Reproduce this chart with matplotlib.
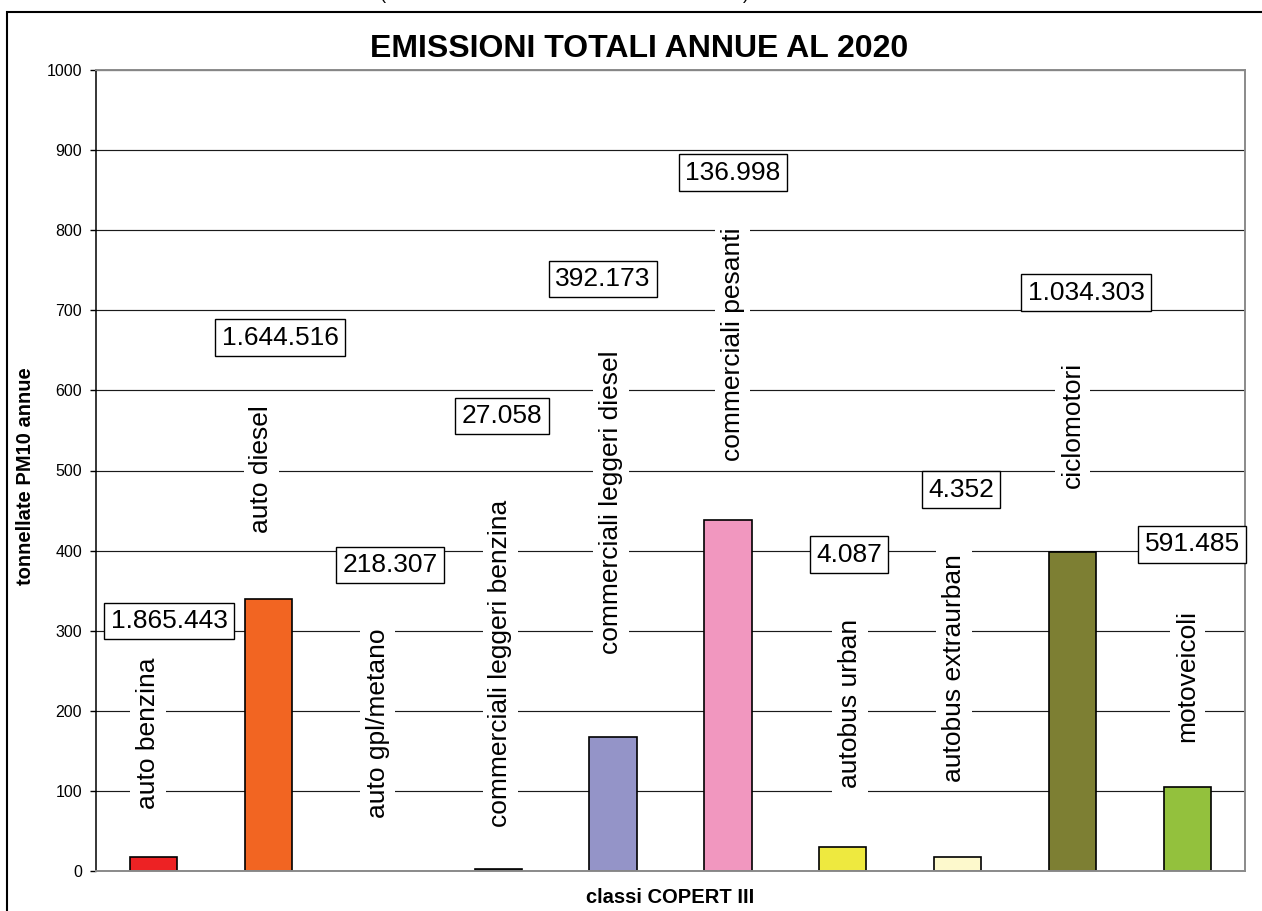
import matplotlib
matplotlib.use("Agg")
import matplotlib.pyplot as plt
from matplotlib.patches import Rectangle

plt.rcParams["font.family"] = ["Liberation Sans", "DejaVu Sans"]

# --- data ---------------------------------------------------------------
categorie = [
    "auto benzina", "auto diesel", "auto gpl/metano",
    "commerciali leggeri benzina", "commerciali leggeri diesel",
    "commerciali pesanti", "autobus urban", "autobus extraurban",
    "ciclomotori", "motoveicoli",
]
emissioni_pm10 = [17, 339, 0, 2, 167, 438, 30, 18, 398, 105]
parco_veicoli = [
    "1.865.443", "1.644.516", "218.307", "27.058", "392.173",
    "136.998", "4.087", "4.352", "1.034.303", "591.485",
]
y_ticks = [0, 100, 200, 300, 400, 500, 600, 700, 800, 900, 1000]

# --- style / layout -----------------------------------------------------
colori = ["#ED2224", "#F26522", "#FFFFFF", "#333333", "#9494C8",
          "#F197BF", "#EEE93F", "#FDF9CC", "#7D7F33", "#93C13D"]
# vertical placement (axis units) and small horizontal nudges of the labels
pos_nome_y = [172, 502, 184, 259, 460, 658, 209, 253, 557, 244]
pos_nome_dx = [-0.05, -0.06, -0.05, 0.02, -0.02, 0.04, 0.06, -0.035, 0.0, 0.0]
pos_parco_y = [312, 666, 382, 568, 739, 872, 395, 476, 722, 408]
pos_parco_dx = [0.135, 0.101, 0.059, 0.034, -0.087, 0.044, 0.054, 0.028, 0.116, 0.039]

W, H = 1262, 911
fig = plt.figure(figsize=(W / 100, H / 100), dpi=100)
fig.patch.set_facecolor("white")

# outer frame of the chart area
fig.add_artist(Rectangle((7 / W, -0.05), 1.2, 1 - 12 / H + 0.05,
                         transform=fig.transFigure, fill=False,
                         edgecolor="black", linewidth=1.5))
# caption line above the frame (only its lower edge falls inside the page)
fig.text(383 / W, 1.0 + 1.5 / H, "(", fontsize=13, ha="center", va="baseline")
fig.text(746 / W, 1.0 + 1.5 / H, ")", fontsize=13, ha="center", va="baseline")

ax = fig.add_axes([96 / W, 1 - 871 / H, (1245 - 96) / W, (871 - 70) / H])
x = list(range(len(categorie)))
lw = [0 if v == 0 else 1.2 for v in emissioni_pm10]
ax.bar(x, emissioni_pm10, width=0.41, color=colori, edgecolor="black",
       linewidth=lw, zorder=2)

ax.set_xlim(-0.5, len(categorie) - 0.5)
ax.set_ylim(0, 1000)
ax.set_yticks(y_ticks)
ax.set_yticklabels([str(t) for t in y_ticks], fontsize=11.5)
ax.set_xticks([])
ax.tick_params(axis="y", direction="out", length=4.5, width=1, color="black", pad=5.5)

ax.yaxis.grid(True, color="#1a1a1a", linewidth=0.85, zorder=0)
ax.set_axisbelow(True)
for side in ["top", "right", "bottom"]:
    ax.spines[side].set_color("#8a8a8a")
    ax.spines[side].set_linewidth(1.4)
ax.spines["left"].set_color("black")
ax.spines["left"].set_linewidth(1.1)

# category names, vertical, on white background
for i, nome in enumerate(categorie):
    ax.text(i + pos_nome_dx[i], pos_nome_y[i], nome, rotation=90,
            ha="center", va="center", fontsize=19, zorder=3,
            bbox=dict(boxstyle="square,pad=0.22", facecolor="white",
                      edgecolor="none"))

# vehicle fleet numbers in framed boxes
for i, val in enumerate(parco_veicoli):
    ax.text(i + pos_parco_dx[i], pos_parco_y[i], val, ha="center", va="center",
            fontsize=19, zorder=4, clip_on=False,
            bbox=dict(boxstyle="square,pad=0.24", facecolor="white",
                      edgecolor="black", linewidth=1.0))

fig.text(639 / W, 1 - 57 / H, "EMISSIONI TOTALI ANNUE AL 2020",
         fontsize=23, fontweight="bold", ha="center", va="baseline")
fig.text(25.5 / W, 1 - 476 / H, "tonnellate PM10 annue", rotation=90,
         fontsize=14.5, fontweight="bold", ha="center", va="center")
fig.text(670.5 / W, 1 - 903 / H, "classi COPERT III",
         fontsize=14.5, fontweight="bold", ha="center", va="baseline")

fig.savefig("out.png", dpi=100)
